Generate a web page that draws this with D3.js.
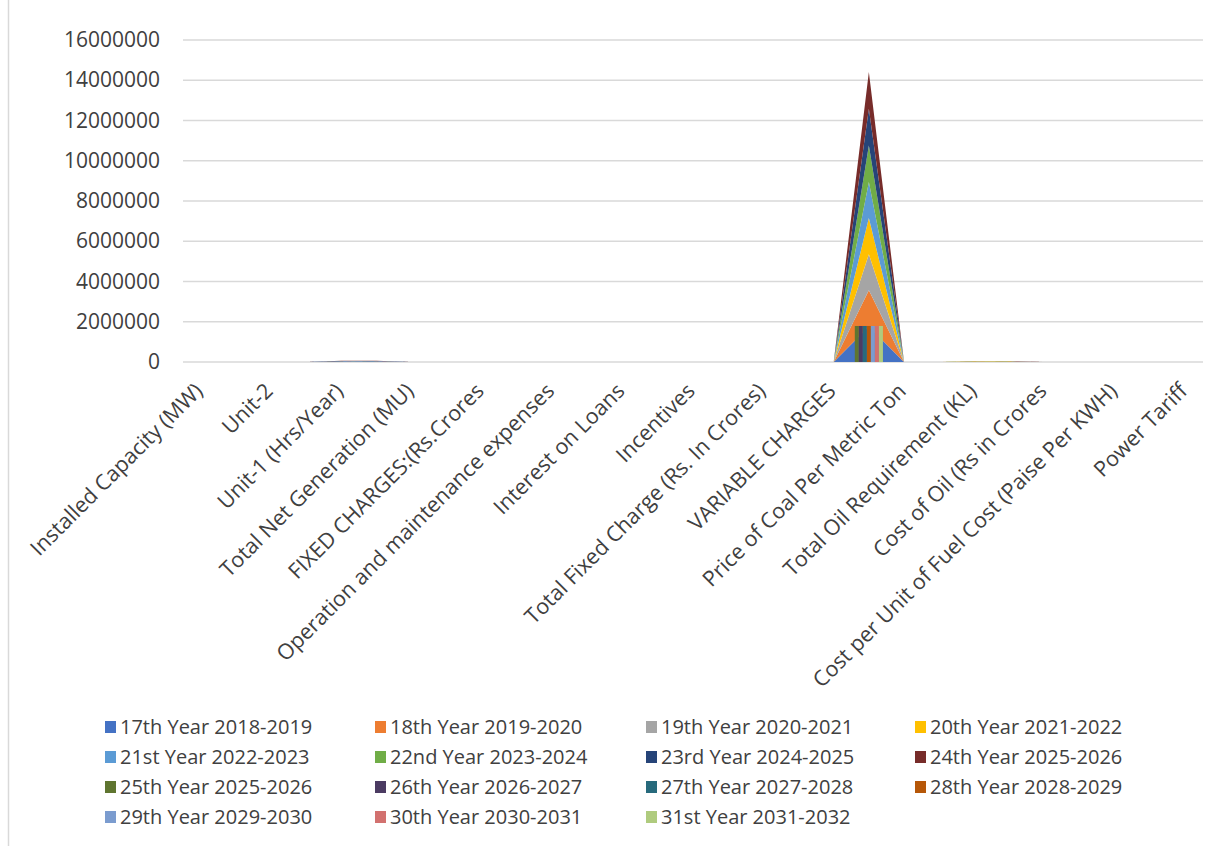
<!DOCTYPE html>
<html>
<head>
<meta charset="utf-8">
<script src="https://cdn.jsdelivr.net/npm/d3@7"></script>
<style>
  body { margin: 0; background: #fff; }
  text { font-family: "Open Sans", sans-serif; fill: #404040; }
</style>
</head>
<body>
<div id="chart"></div>
<script>
// category labels: Excel only shows every second one, the skipped ones are blank here
var categoryLabels = [
  "Installed Capacity (MW)", "", "Unit-2", "", "Unit-1 (Hrs/Year)", "",
  "Total Net Generation (MU)", "", "FIXED CHARGES:(Rs.Crores", "",
  "Operation and maintenance expenses", "", "Interest on Loans", "",
  "Incentives", "", "Total Fixed Charge (Rs. In Crores)", "",
  "VARIABLE CHARGES", "", "Price of Coal Per Metric Ton", "",
  "Total Oil Requirement (KL)", "", "Cost of Oil (Rs in Crores", "",
  "Cost per Unit of Fuel Cost (Paise Per KWH)", "", "Power Tariff"
];

// stacked area series
var areaNames = ["17th Year 2018-2019", "18th Year 2019-2020", "19th Year 2020-2021", "20th Year 2021-2022",
                 "21st Year 2022-2023", "22nd Year 2023-2024", "23rd Year 2024-2025", "24th Year 2025-2026"];
var y17 = [0,0,0,0,7000,7000,0,0,0,0,0,0,0,0,0,0,0,0,0,1770000,0,0,5200,5200,0,0,0,0,0];
var y18 = [0,0,0,0,7000,7000,0,0,0,0,0,0,0,0,0,0,0,0,0,1790000,0,0,5200,5200,0,0,0,0,0];
var y19 = [0,0,0,0,7000,7000,0,0,0,0,0,0,0,0,0,0,0,0,0,1790000,0,0,5200,5200,0,0,0,0,0];
var y20 = [0,0,0,0,7000,7000,0,0,0,0,0,0,0,0,0,0,0,0,0,1800000,0,0,5200,5200,0,0,0,0,0];
var y21 = [0,0,0,0,7000,7000,0,0,0,0,0,0,0,0,0,0,0,0,0,1800000,0,0,5200,5200,0,0,0,0,0];
var y22 = [0,0,0,0,7000,7000,0,0,0,0,0,0,0,0,0,0,0,0,0,1810000,0,0,5200,5200,0,0,0,0,0];
var y23 = [0,0,0,0,7000,7000,0,0,0,0,0,0,0,0,0,0,0,0,0,1820000,0,0,5200,5200,0,0,0,0,0];
var y24 = [0,0,0,0,7000,7000,0,0,0,0,0,0,0,0,0,0,0,0,0,1830000,0,0,5200,5200,0,0,0,0,0];

// clustered column series
var colNames = ["25th Year 2025-2026", "26th Year 2026-2027", "27th Year 2027-2028", "28th Year 2028-2029",
                "29th Year 2029-2030", "30th Year 2030-2031", "31st Year 2031-2032"];
var y25 = [0,0,0,0,7000,7000,0,0,0,0,0,0,0,0,0,0,0,0,0,1790000,0,0,5200,5200,0,0,0,0,0];
var y26 = [0,0,0,0,7000,7000,0,0,0,0,0,0,0,0,0,0,0,0,0,1790000,0,0,5200,5200,0,0,0,0,0];
var y27 = [0,0,0,0,7000,7000,0,0,0,0,0,0,0,0,0,0,0,0,0,1790000,0,0,5200,5200,0,0,0,0,0];
var y28 = [0,0,0,0,7000,7000,0,0,0,0,0,0,0,0,0,0,0,0,0,1790000,0,0,5200,5200,0,0,0,0,0];
var y29 = [0,0,0,0,7000,7000,0,0,0,0,0,0,0,0,0,0,0,0,0,1790000,0,0,5200,5200,0,0,0,0,0];
var y30 = [0,0,0,0,7000,7000,0,0,0,0,0,0,0,0,0,0,0,0,0,1790000,0,0,5200,5200,0,0,0,0,0];
var y31 = [0,0,0,0,7000,7000,0,0,0,0,0,0,0,0,0,0,0,0,0,1790000,0,0,5200,5200,0,0,0,0,0];

var yTicks = [0, 2000000, 4000000, 6000000, 8000000, 10000000, 12000000, 14000000, 16000000];

var areaColors = ["#4472c4", "#ed7d31", "#a5a5a5", "#ffc000", "#5b9bd5", "#70ad47", "#264478", "#772c2a"];
var colColors = ["#5f7530", "#4b3b62", "#276a7c", "#b65708", "#7b9ccf", "#d2716f", "#afcb7e"];

var areaValues = [y17, y18, y19, y20, y21, y22, y23, y24];
var colValues = [y25, y26, y27, y28, y29, y30, y31];

var W = 1227, H = 846;
var margin = {top: 40, left: 183, right: 24, bottom: 484};

var svg = d3.select("#chart").append("svg")
    .attr("width", W)
    .attr("height", H);

svg.append("rect").attr("width", W).attr("height", H).attr("fill", "#fff");
// chart border (only left edge is in frame)
svg.append("line")
    .attr("x1", 8.5).attr("x2", 8.5).attr("y1", 0).attr("y2", H)
    .attr("stroke", "#d9d9d9").attr("stroke-width", 1.5);

var x = d3.scaleBand()
    .domain(d3.range(categoryLabels.length))
    .range([margin.left, W - margin.right]);

var y = d3.scaleLinear()
    .domain([0, 16000000])
    .range([H - margin.bottom, margin.top]);

// gridlines
svg.append("g").selectAll("line")
    .data(yTicks)
    .enter().append("line")
    .attr("x1", margin.left).attr("x2", W - margin.right)
    .attr("y1", function(d) { return y(d); })
    .attr("y2", function(d) { return y(d); })
    .attr("stroke", "#d9d9d9").attr("stroke-width", 1.5);

// y axis labels
var yAxis = svg.append("g")
    .attr("transform", "translate(" + margin.left + ",0)")
    .call(d3.axisLeft(y).tickValues(yTicks).tickSize(0).tickPadding(23).tickFormat(d3.format("d")));
yAxis.select(".domain").remove();
yAxis.selectAll("text")
    .style("font-family", "Open Sans")
    .style("font-size", "21px")
    .attr("fill", "#404040");

// stacked areas
var table = categoryLabels.map(function(c, i) {
    var row = {i: i};
    areaNames.forEach(function(n, k) { row[n] = areaValues[k][i]; });
    return row;
});
var stack = d3.stack().keys(areaNames);
var layers = stack(table);

var area = d3.area()
    .x(function(d) { return x(d.data.i) + x.bandwidth() / 2; })
    .y0(function(d) { return y(d[0]); })
    .y1(function(d) { return y(d[1]); });

svg.append("g").selectAll("path")
    .data(layers)
    .enter().append("path")
    .attr("d", area)
    .attr("fill", function(d, k) { return areaColors[k]; });

// clustered columns, gap width about 25%
var inner = d3.scaleBand()
    .domain(colNames)
    .range([x.bandwidth() * 0.1, x.bandwidth() * 0.9]);

colNames.forEach(function(n, k) {
    svg.append("g").selectAll("rect")
        .data(colValues[k])
        .enter().append("rect")
        .attr("x", function(d, i) { return x(i) + inner(n); })
        .attr("y", function(d) { return y(d); })
        .attr("width", inner.bandwidth())
        .attr("height", function(d) { return y(0) - y(d); })
        .attr("fill", colColors[k]);
});

// x labels, rotated
svg.append("g").selectAll("text")
    .data(categoryLabels.map(function(c, i) { return {c: c, i: i}; }).filter(function(d) { return d.c !== ""; }))
    .enter().append("text")
    .attr("transform", function(d) {
        return "translate(" + (x(d.i) + x.bandwidth() / 2 - 2) + "," + (y(0) + 25) + ")rotate(-45)";
    })
    .attr("text-anchor", "end")
    .attr("dy", "0.35em")
    .style("font-size", "21.5px")
    .text(function(d) { return d.c; });

// legend
var legendItems = areaNames.map(function(n, k) { return {name: n, color: areaColors[k]}; })
    .concat(colNames.map(function(n, k) { return {name: n, color: colColors[k]}; }));
var legendX = [105, 375, 646, 915];
var legendY = [727, 757, 787, 817];

var lg = svg.append("g").selectAll("g")
    .data(legendItems)
    .enter().append("g")
    .attr("transform", function(d, k) {
        return "translate(" + legendX[k % 4] + "," + legendY[Math.floor(k / 4)] + ")";
    });
lg.append("rect")
    .attr("x", 0).attr("y", -6)
    .attr("width", 11).attr("height", 12)
    .attr("fill", function(d) { return d.color; });
lg.append("text")
    .attr("x", 15)
    .attr("dy", "0.35em")
    .style("font-size", "20px")
    .text(function(d) { return d.name; });
</script>
</body>
</html>
